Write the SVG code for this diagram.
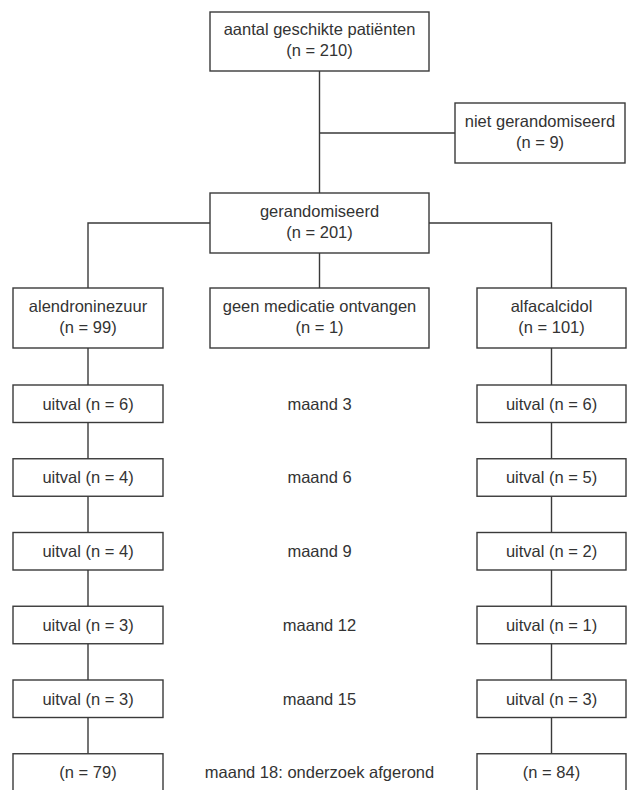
<svg xmlns="http://www.w3.org/2000/svg" width="628" height="790" viewBox="0 0 628 790">
<style>
  .box { fill: #fff; stroke: #3a3a3a; stroke-width: 1.4; }
  .ln { fill: none; stroke: #3a3a3a; stroke-width: 1.4; }
  text { font-family: "Liberation Sans", Arial, sans-serif; font-size: 16.5px; fill: #333; text-anchor: middle; }
</style>
<rect width="628" height="790" fill="#fff"/>
<g id="connectors">
  <path class="ln" d="M319.5 71 V193 M319.5 133 H455 M319.5 253 V288 M210 223 H88 V288 M429 223 H551.5 V288"/>
  <path class="ln" d="M88 348 V385 M88 422.5 V458.75 M88 496.25 V532.5 M88 570 V606.25 M88 643.75 V680 M88 717.5 V753.75"/>
  <path class="ln" d="M551.5 348 V385 M551.5 422.5 V458.75 M551.5 496.25 V532.5 M551.5 570 V606.25 M551.5 643.75 V680 M551.5 717.5 V753.75"/>
</g>
<g id="geschikt"><rect class="box" x="210" y="12" width="219" height="59"/><text x="319.5" y="35">aantal geschikte patiënten</text><text x="319.5" y="56">(n = 210)</text></g>
<g id="niet"><rect class="box" x="455" y="103" width="170" height="60"/><text x="540" y="126.5">niet gerandomiseerd</text><text x="540" y="147.5">(n = 9)</text></g>
<g id="gerandomiseerd"><rect class="box" x="210" y="193" width="219" height="60"/><text x="319.5" y="216.5">gerandomiseerd</text><text x="319.5" y="237.5">(n = 201)</text></g>
<g id="alendronine"><rect class="box" x="13" y="288" width="150" height="60"/><text x="88" y="311.5">alendroninezuur</text><text x="88" y="332.5">(n = 99)</text></g>
<g id="geenmedicatie"><rect class="box" x="210" y="288" width="219" height="60"/><text x="319.5" y="311.5">geen medicatie ontvangen</text><text x="319.5" y="332.5">(n = 1)</text></g>
<g id="alfacalcidol"><rect class="box" x="477" y="288" width="149" height="60"/><text x="551.5" y="311.5">alfacalcidol</text><text x="551.5" y="332.5">(n = 101)</text></g>

<g id="L3"><rect class="box" x="13" y="385" width="150" height="37.5"/><text x="88" y="409.5">uitval (n = 6)</text></g>
<g id="M3"><text x="319.5" y="409.5">maand 3</text></g>
<g id="R3"><rect class="box" x="477" y="385" width="149" height="37.5"/><text x="551.5" y="409.5">uitval (n = 6)</text></g>

<g id="L6"><rect class="box" x="13" y="458.75" width="150" height="37.5"/><text x="88" y="483.25">uitval (n = 4)</text></g>
<g id="M6"><text x="319.5" y="483.25">maand 6</text></g>
<g id="R6"><rect class="box" x="477" y="458.75" width="149" height="37.5"/><text x="551.5" y="483.25">uitval (n = 5)</text></g>

<g id="L9"><rect class="box" x="13" y="532.5" width="150" height="37.5"/><text x="88" y="557">uitval (n = 4)</text></g>
<g id="M9"><text x="319.5" y="557">maand 9</text></g>
<g id="R9"><rect class="box" x="477" y="532.5" width="149" height="37.5"/><text x="551.5" y="557">uitval (n = 2)</text></g>

<g id="L12"><rect class="box" x="13" y="606.25" width="150" height="37.5"/><text x="88" y="630.75">uitval (n = 3)</text></g>
<g id="M12"><text x="319.5" y="630.75">maand 12</text></g>
<g id="R12"><rect class="box" x="477" y="606.25" width="149" height="37.5"/><text x="551.5" y="630.75">uitval (n = 1)</text></g>

<g id="L15"><rect class="box" x="13" y="680" width="150" height="37.5"/><text x="88" y="704.5">uitval (n = 3)</text></g>
<g id="M15"><text x="319.5" y="704.5">maand 15</text></g>
<g id="R15"><rect class="box" x="477" y="680" width="149" height="37.5"/><text x="551.5" y="704.5">uitval (n = 3)</text></g>

<g id="L18"><rect class="box" x="13" y="753.75" width="150" height="40"/><text x="88" y="778.25">(n = 79)</text></g>
<g id="M18"><text x="319.5" y="778.25">maand 18: onderzoek afgerond</text></g>
<g id="R18"><rect class="box" x="477" y="753.75" width="149" height="40"/><text x="551.5" y="778.25">(n = 84)</text></g>
</svg>
